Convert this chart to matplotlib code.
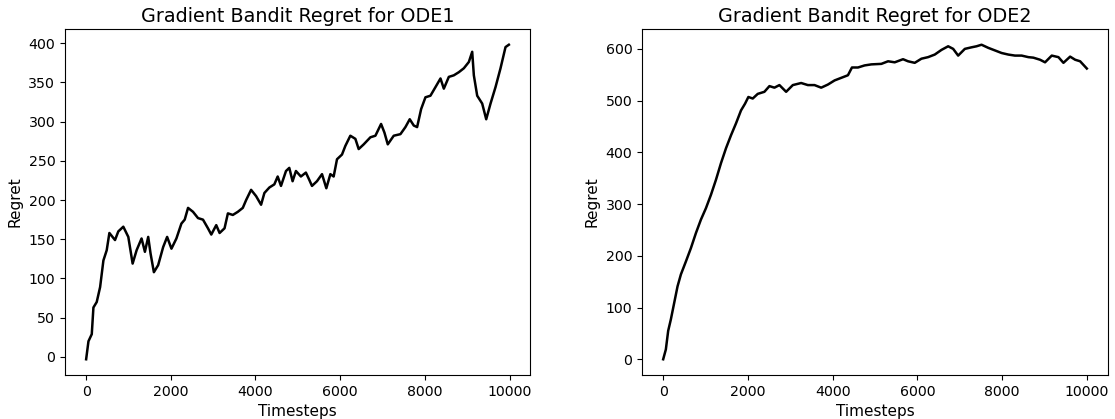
import matplotlib
matplotlib.use("Agg")
import matplotlib.pyplot as plt

# ODE1 regret
ode1_t = [0, 55, 133, 172, 250, 330, 408, 486, 549, 682, 760, 878, 996, 1098, 1192, 1309,
          1388, 1466, 1521, 1600, 1701, 1819, 1913, 2015, 2132, 2250, 2328, 2407, 2524, 2642,
          2760, 2877, 2956, 3073, 3152, 3269, 3348, 3465, 3583, 3700, 3779, 3896, 4014, 4132,
          4210, 4328, 4445, 4524, 4602, 4720, 4798, 4876, 4955, 5072, 5190, 5268, 5334, 5452,
          5571, 5673, 5768, 5846, 5925, 6043, 6122, 6240, 6359, 6437, 6556, 6714, 6832, 6966,
          7045, 7124, 7265, 7423, 7541, 7643, 7738, 7817, 7912, 8014, 8132, 8251, 8369, 8448,
          8566, 8684, 8803, 8921, 9039, 9118, 9157, 9236, 9354, 9449, 9551, 9669, 9787, 9905,
          9984]
ode1_regret = [-3, 20, 29, 63, 70, 89, 123, 136, 158, 149, 160, 166, 153, 119, 136, 151,
               134, 153, 132, 108, 117, 140, 153, 138, 151, 170, 175, 190, 185, 177,
               175, 164, 156, 168, 158, 164, 183, 181, 185, 190, 200, 213, 205, 194,
               209, 216, 220, 230, 218, 237, 241, 224, 237, 230, 235, 226, 218, 224,
               233, 215, 233, 230, 252, 258, 269, 282, 278, 265, 271, 280, 282, 297,
               286, 271, 282, 284, 293, 303, 295, 293, 316, 331, 333, 344, 355, 342,
               357, 359, 363, 368, 376, 389, 359, 333, 323, 303, 323, 344, 368, 395,
               398]

# ODE2 regret
ode2_t = [0, 63, 118, 181, 260, 339, 418, 536, 655, 773, 891, 1009, 1128, 1246, 1364, 1483,
          1601, 1719, 1837, 1932, 2011, 2114, 2232, 2389, 2508, 2626, 2744, 2902, 3060, 3257,
          3415, 3572, 3730, 3888, 4046, 4203, 4361, 4456, 4598, 4755, 4913, 5150, 5308, 5465,
          5662, 5780, 5938, 6096, 6253, 6411, 6569, 6727, 6845, 6963, 7121, 7279, 7397, 7515,
          7673, 7831, 7989, 8146, 8304, 8462, 8620, 8738, 8896, 9014, 9172, 9330, 9448, 9606,
          9724, 9842, 10000]
ode2_regret = [0, 19, 55, 77, 109, 141, 164, 189, 215, 244, 270, 292, 318, 347, 379, 408,
               433, 456, 481, 494, 507, 504, 513, 517, 528, 525, 530, 517, 530, 534,
               530, 530, 525, 531, 539, 544, 549, 564, 564, 568, 570, 571, 576, 574,
               580, 576, 573, 581, 584, 589, 598, 605, 600, 587, 600, 603, 605, 608,
               602, 597, 592, 589, 587, 587, 584, 583, 579, 574, 587, 584, 573, 585,
               579, 576, 562]

titles = ["Gradient Bandit Regret for ODE1", "Gradient Bandit Regret for ODE2"]

fig = plt.figure(figsize=(11.15, 4.19), dpi=100)
ax1 = fig.add_axes([65/1115, 1-375/419, 465/1115, 346/419])
ax2 = fig.add_axes([642/1115, 1-375/419, 466/1115, 346/419])

for ax, t, r, title in [(ax1, ode1_t, ode1_regret, titles[0]), (ax2, ode2_t, ode2_regret, titles[1])]:
    ax.plot(t, r, color="black", linewidth=1.8)
    ax.set_title(title, fontsize=13.8, pad=5)
    ax.set_xlabel("Timesteps", fontsize=11)
    ax.set_ylabel("Regret", fontsize=11)
    ax.tick_params(labelsize=10.2)
    ax.set_xticks([0, 2000, 4000, 6000, 8000, 10000])

ax1.set_yticks(range(0, 401, 50))
ax2.set_yticks(range(0, 601, 100))

fig.savefig("out.png", dpi=100)
